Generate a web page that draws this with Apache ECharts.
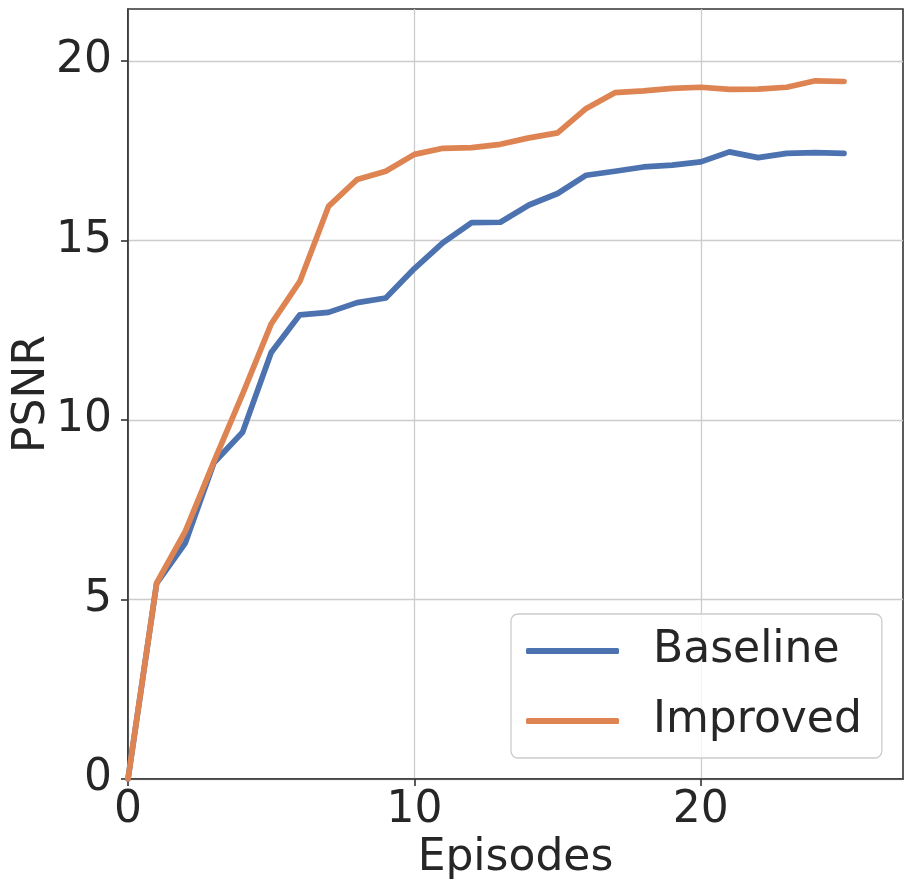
<!DOCTYPE html>
<html>
<head>
<meta charset="utf-8">
<script src="https://cdn.jsdelivr.net/npm/echarts@6/dist/echarts.min.js"></script>
<style>
html,body{margin:0;padding:0;background:#fff;}
#c{width:913px;height:894px;}
</style>
</head>
<body>
<div id="c"></div>
<script>
var episodes = [0,1,2,3,4,5,6,7,8,9,10,11,12,13,14,15,16,17,18,19,20,21,22,23,24,25];
var baseline = [0, 5.45, 6.57, 8.81, 9.66, 11.88, 12.93, 13.0, 13.27, 13.40, 14.22, 14.94, 15.50, 15.51, 15.99, 16.31, 16.82, 16.93, 17.05, 17.10, 17.19, 17.47, 17.31, 17.43, 17.45, 17.43];
var improved = [0, 5.46, 6.90, 8.84, 10.72, 12.68, 13.86, 15.95, 16.70, 16.93, 17.40, 17.57, 17.59, 17.68, 17.86, 18.00, 18.68, 19.12, 19.17, 19.24, 19.27, 19.21, 19.22, 19.27, 19.45, 19.43];
var seriesNames = ['Baseline', 'Improved'];
var xTicks = [0, 10, 20];
var yTicks = [0, 5, 10, 15, 20];

function pairs(ys){ return episodes.map(function(x,i){ return [x, ys[i]]; }); }

var font = 'DejaVu Sans';
var txt = '#262626';
var spine = '#333333';
var chart = echarts.init(document.getElementById('c'), null, {renderer:'canvas'});
chart.setOption({
  animation:false,
  backgroundColor:'#fff',
  grid:{left:128, right:10, top:9, bottom:115, show:true, borderColor:spine, borderWidth:1.6, containLabel:false, outerBoundsMode:'none'},
  xAxis:{
    type:'value', min:0, max:27.06, interval:10,
    name:'Episodes', nameLocation:'middle', nameGap:58, nameMoveOverlap:false,
    nameTextStyle:{fontFamily:font, fontSize:44, color:txt},
    axisLine:{show:true, lineStyle:{color:spine, width:1.6}},
    axisTick:{show:true, length:7, lineStyle:{color:spine, width:1.6}, customValues:xTicks},
    axisLabel:{fontFamily:font, fontSize:44, color:txt, margin:10, customValues:xTicks},
    splitLine:{show:true, lineStyle:{color:'#cccccc', width:1.3}}
  },
  yAxis:{
    type:'value', min:0, max:21.45, interval:5,
    name:'PSNR', nameLocation:'middle', nameGap:73, nameMoveOverlap:false,
    nameTextStyle:{fontFamily:font, fontSize:44, color:txt},
    axisLine:{show:true, lineStyle:{color:spine, width:1.6}},
    axisTick:{show:true, length:7, lineStyle:{color:spine, width:1.6}, customValues:yTicks},
    axisLabel:{fontFamily:font, fontSize:44, color:txt, margin:16, customValues:yTicks},
    splitLine:{show:true, lineStyle:{color:'#cccccc', width:1.3}}
  },
  legend:{
    orient:'vertical', left:511, top:614,
    padding:[15,20,15,15], itemGap:26, itemWidth:93, itemHeight:6, icon:'roundRect',
    backgroundColor:'rgba(255,255,255,0.8)', borderColor:'#cccccc', borderWidth:1.3, borderRadius:7,
    textStyle:{fontFamily:font, fontSize:44, color:txt, lineHeight:44, padding:[0,0,0,29]},
    data:seriesNames
  },
  series:[
    {name:seriesNames[0], type:'line', data:pairs(baseline), showSymbol:false, symbol:'none',
     color:'#4c72b0', lineStyle:{width:5.7, color:'#4c72b0', cap:'round', join:'round'}},
    {name:seriesNames[1], type:'line', data:pairs(improved), showSymbol:false, symbol:'none',
     color:'#dd8452', lineStyle:{width:5.7, color:'#dd8452', cap:'round', join:'round'}}
  ]
});
</script>
</body>
</html>
